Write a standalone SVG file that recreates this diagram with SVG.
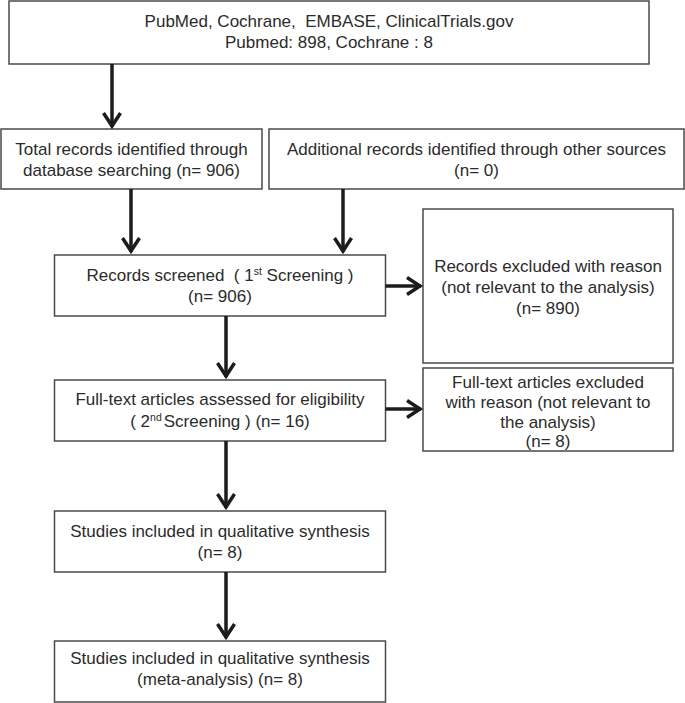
<svg xmlns="http://www.w3.org/2000/svg" width="685" height="703" viewBox="0 0 685 703">
<style>
.box{fill:#fff;stroke:#4a4a4a;stroke-width:1.5}
.t{font-family:"Liberation Sans",Arial,sans-serif;font-size:17px;fill:#2b2b2b;text-anchor:middle}
.sup{font-size:10.5px}
.arr{fill:none;stroke:#1c1c1c;stroke-width:3.5}
</style>
<defs>
<marker id="ah" markerUnits="userSpaceOnUse" markerWidth="30" markerHeight="30" refX="0" refY="0" viewBox="-20 -15 30 30" orient="auto" overflow="visible">
<path d="M-14,-8.5 L-1,0 L-14,8.5" fill="none" stroke="#1c1c1c" stroke-width="3.5" stroke-linejoin="miter"/>
</marker>
</defs>
<rect width="685" height="703" fill="#fff"/>
<g id="n-sources">
<rect class="box" x="9" y="1" width="640" height="63"/>
<text class="t" x="329" y="27">PubMed, Cochrane,&#160; EMBASE, ClinicalTrials.gov</text>
<text class="t" x="329" y="48">Pubmed: 898, Cochrane : 8</text>
</g>
<g id="n-total">
<rect class="box" x="1" y="129" width="261" height="60"/>
<text class="t" x="131.5" y="155">Total records identified through</text>
<text class="t" x="131.5" y="176">database searching (n= 906)</text>
</g>
<g id="n-additional">
<rect class="box" x="269" y="129" width="415" height="60"/>
<text class="t" x="476.5" y="155">Additional records identified through other sources</text>
<text class="t" x="476.5" y="176">(n= 0)</text>
</g>
<g id="n-screened">
<rect class="box" x="54.5" y="255" width="331" height="61"/>
<text class="t" x="220" y="281">Records screened&#160; ( 1<tspan class="sup" dy="-6">st</tspan><tspan dy="6"> Screening )</tspan></text>
<text class="t" x="220" y="302">(n= 906)</text>
</g>
<g id="n-excluded1">
<rect class="box" x="423" y="209" width="250" height="154"/>
<text class="t" x="548" y="272">Records excluded with reason</text>
<text class="t" x="548" y="293">(not relevant to the analysis)</text>
<text class="t" x="548" y="314">(n= 890)</text>
</g>
<g id="n-fulltext">
<rect class="box" x="54.5" y="380" width="331" height="61"/>
<text class="t" x="220" y="405">Full-text articles assessed for eligibility</text>
<text class="t" x="220" y="427">( 2<tspan class="sup" dy="-6">nd</tspan><tspan dy="6" dx="2">Screening ) (n= 16)</tspan></text>
</g>
<g id="n-excluded2">
<rect class="box" x="423" y="368" width="250" height="83"/>
<text class="t" x="548" y="388">Full-text articles excluded</text>
<text class="t" x="548" y="408">with reason (not relevant to</text>
<text class="t" x="548" y="428">the analysis)</text>
<text class="t" x="548" y="447">(n= 8)</text>
</g>
<g id="n-studies">
<rect class="box" x="54.5" y="511" width="331" height="61"/>
<text class="t" x="220" y="537">Studies included in qualitative synthesis</text>
<text class="t" x="220" y="558">(n= 8)</text>
</g>
<g id="n-meta">
<rect class="box" x="54.5" y="641" width="331" height="61"/>
<text class="t" x="220" y="664">Studies included in qualitative synthesis</text>
<text class="t" x="220" y="685">(meta-analysis) (n= 8)</text>
</g>
<g id="connectors">
<line class="arr" x1="112" y1="64" x2="112" y2="127" marker-end="url(#ah)"/>
<line class="arr" x1="131" y1="189" x2="131" y2="252" marker-end="url(#ah)"/>
<line class="arr" x1="343" y1="189" x2="343" y2="252" marker-end="url(#ah)"/>
<line class="arr" x1="385.5" y1="286" x2="421" y2="286" marker-end="url(#ah)"/>
<line class="arr" x1="226" y1="316" x2="226" y2="377" marker-end="url(#ah)"/>
<line class="arr" x1="385.5" y1="409" x2="421" y2="409" marker-end="url(#ah)"/>
<line class="arr" x1="226" y1="441" x2="226" y2="508" marker-end="url(#ah)"/>
<line class="arr" x1="226" y1="572" x2="226" y2="638" marker-end="url(#ah)"/>
</g>
</svg>
